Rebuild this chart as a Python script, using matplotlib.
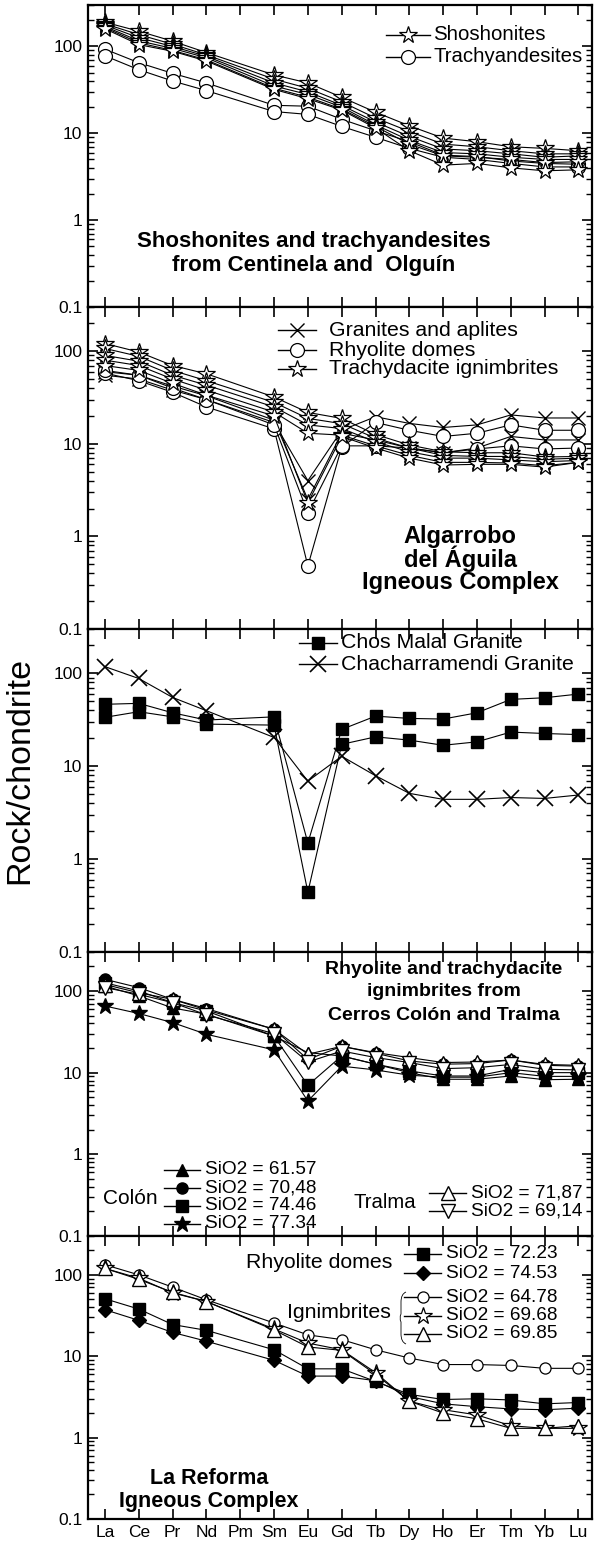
import numpy as np
import matplotlib
matplotlib.use('Agg')
import matplotlib.pyplot as plt
from matplotlib.lines import Line2D
from matplotlib.path import Path
from matplotlib.patches import PathPatch
from matplotlib.ticker import LogLocator, FixedLocator, FuncFormatter, NullFormatter

plt.rcParams['font.family'] = ['Liberation Sans', 'DejaVu Sans']

# ---------------- data ----------------
elements = ['La', 'Ce', 'Pr', 'Nd', 'Pm', 'Sm', 'Eu', 'Gd', 'Tb', 'Dy', 'Ho', 'Er', 'Tm', 'Yb', 'Lu']
measured = ['La', 'Ce', 'Pr', 'Nd', 'Sm', 'Eu', 'Gd', 'Tb', 'Dy', 'Ho', 'Er', 'Tm', 'Yb', 'Lu']

# Panel 1: Centinela and Olguin
shoshonites = [
    [190, 150, 115, 85, 47, 38, 26, 17.5, 12.2, 8.8, 8.0, 7.0, 6.7, 6.3],
    [182, 137, 106, 80, 42, 33, 23, 15.0, 10.5, 7.5, 7.0, 6.3, 5.8, 5.8],
    [176, 126, 100, 77, 38, 30, 21, 13.5, 9.2, 6.6, 6.3, 5.8, 5.3, 5.5],
    [170, 116, 95, 74, 35, 28, 20, 12.5, 8.3, 6.0, 5.8, 5.3, 5.0, 5.0],
    [165, 110, 90, 70, 33, 26, 19, 12.0, 7.5, 5.5, 5.3, 5.0, 4.6, 4.7],
    [160, 105, 88, 68, 32, 25, 18.5, 11.5, 6.3, 4.3, 4.5, 4.0, 3.7, 3.8],
]
trachyandesites = [
    [93, 65, 49, 38, 21, 20.5, 14.5, 10.7, 8.0, 5.6, 5.4, 4.8, 4.5, 4.4],
    [78, 54, 40, 31, 17.8, 16.5, 12.0, 9.0, 6.7, 5.3, 5.0, 4.5, 4.1, 4.1],
]

# Panel 2: Algarrobo del Aguila
granites_aplites = [
    [55, 50, 38, 30, 17, 4.0, 14, 19.6, 16.6, 15, 16, 20.5, 19, 19],
    [60, 55, 42, 33, 18, 2.5, 13, 11, 9.0, 8.0, 9.0, 12, 11, 11],
]
rhyolite_domes = [
    [58, 48, 36, 25, 14.5, 0.48, 9.2, 17, 14, 12, 13, 16, 14, 14],
    [62, 55, 40, 30, 16, 1.8, 9.5, 9.5, 9.0, 8.0, 8.8, 9.5, 8.8, 9.0],
]
trachydacite_ignimbrites = [
    [121, 98, 70, 57, 32, 21.8, 18.8, 12.6, 9.7, 8.2, 8.0, 8.0, 7.2, 7.3],
    [107, 88, 62, 48, 28, 18.8, 16.5, 11.5, 9.0, 7.5, 7.3, 7.3, 6.8, 7.0],
    [90, 78, 55, 43, 25, 16, 14.6, 10.5, 8.2, 7.0, 7.0, 6.7, 6.4, 6.6],
    [80, 70, 50, 38, 22, 13, 12.4, 9.5, 7.5, 6.3, 6.3, 6.2, 5.8, 6.3],
    [70, 62, 45, 33.5, 20, 2.3, 12, 9.0, 7.0, 5.9, 6.0, 6.0, 5.6, 6.3],
]

# Panel 3
chos_malal = [
    [46.4, 47.5, 37.6, 31.4, 34, 1.49, 24.9, 34.6, 32.7, 32.2, 37.6, 52.4, 54.6, 59.8],
    [33.6, 38.6, 34, 28.4, 27.7, 0.44, 17.2, 20.7, 19.1, 16.8, 18.3, 23.3, 22.5, 21.9],
]
chacharramendi = [118, 88, 55, 39.6, 20.4, 6.9, 12.8, 7.9, 5.1, 4.4, 4.4, 4.6, 4.5, 4.9]

# Panel 4: Cerros Colon and Tralma
colon_labels = ['SiO2 = 61.57', 'SiO2 = 70,48', 'SiO2 = 74.46', 'SiO2 = 77.34']
colon = [
    [115, 87, 62, 52, 28, 17.6, 16, 12.7, 10, 8.3, 8.3, 9.1, 8.2, 8.3],
    [139, 110, 79, 61, 34, 14.5, 21, 17.3, 13.9, 12.7, 12.9, 14.3, 12.3, 12],
    [126, 100, 72, 57, 28, 7.0, 16, 12.7, 10.5, 9.1, 9.1, 11, 10, 10],
    [65.5, 53, 41, 29.5, 19, 4.5, 12, 10.8, 9.3, 8.8, 8.8, 10, 9.0, 9.0],
]
tralma_labels = ['SiO2 = 71,87', 'SiO2 = 69,14']
tralma = [
    [120, 95, 79, 58.5, 34, 16.8, 21, 17.6, 15.3, 13.3, 13.5, 14.3, 12.6, 12.3],
    [110, 91, 72, 51, 30, 13.5, 18.4, 15.3, 13.3, 11.2, 11.5, 12.6, 11, 10.8],
]

# Panel 5: La Reforma
domes_labels = ['SiO2 = 72.23', 'SiO2 = 74.53']
reforma_domes = [
    [50.8, 38, 24.5, 20.8, 12, 7.0, 7.0, 4.9, 3.4, 2.94, 3.0, 2.9, 2.6, 2.7],
    [37.3, 27.6, 19.6, 15.3, 8.9, 5.7, 5.7, 5.0, 3.2, 2.6, 2.4, 2.25, 2.2, 2.3],
]
ign_labels = ['SiO2 = 64.78', 'SiO2 = 69.68', 'SiO2 = 69.85']
reforma_ign = [
    [133, 100, 70.6, 49.4, 25.6, 18.3, 16, 12, 9.5, 7.9, 7.9, 7.7, 7.1, 7.1],
    [120, 91, 60, 47, 21.6, 14.5, 12, 6.3, 2.8, 2.2, 1.9, 1.4, 1.3, 1.3],
    [120, 88, 61, 47, 21, 13, 11.8, 6.0, 2.8, 2.0, 1.7, 1.3, 1.3, 1.4],
]

# ---------------- styles ----------------
LW = 0.8
star_open = dict(marker='*', ms=13, mfc='white', mec='k', mew=0.9)
circ_open = dict(marker='o', ms=10, mfc='white', mec='k', mew=0.9)
xmark = dict(marker='x', ms=10, mec='k', mew=1.0)
xmark_big = dict(marker='x', ms=11, mec='k', mew=1.2)
sq_fill = dict(marker='s', ms=8, mfc='k', mec='k')
tri_fill = dict(marker='^', ms=9, mfc='k', mec='k')
circ_fill = dict(marker='o', ms=8, mfc='k', mec='k')
star_fill = dict(marker='*', ms=12, mfc='k', mec='k')
tri_open = dict(marker='^', ms=10, mfc='white', mec='k', mew=1.0)
trid_open = dict(marker='v', ms=10, mfc='white', mec='k', mew=1.0)
diam_fill = dict(marker='D', ms=7, mfc='k', mec='k')
circ_small = dict(marker='o', ms=8, mfc='white', mec='k', mew=0.9)

W, H, DPI = 601, 1544, 100
fig = plt.figure(figsize=(W / DPI, H / DPI), dpi=DPI)

AX_L, AX_R = 88, 592
panels_px = [(5, 307), (307, 629), (629, 952), (952, 1236), (1236, 1519)]

xpos = {e: i for i, e in enumerate(elements)}
xm = [xpos[e] for e in measured]

LEG_FS = 15.3
SIO_FS = 13.7


def fx(x):
    return x / W


def fy(y):
    return 1 - y / H


axes = []
for i, (t, b) in enumerate(panels_px):
    ax = fig.add_axes([fx(AX_L), fy(b), (AX_R - AX_L) / W, (b - t) / H])
    ax.set_yscale('log')
    ax.set_ylim(0.1, 300)
    ax.set_xlim(-0.5, 14.4)
    ax.xaxis.set_major_locator(FixedLocator(range(len(elements))))
    if i == len(panels_px) - 1:
        ax.set_xticklabels(elements, fontsize=12.5)
    else:
        ax.set_xticklabels([])
    ax.yaxis.set_major_locator(FixedLocator([0.1, 1, 10, 100]))
    ax.yaxis.set_major_formatter(FuncFormatter(lambda v, p: '%g' % v))
    ax.yaxis.set_minor_locator(LogLocator(base=10, subs=np.arange(2, 10), numticks=20))
    ax.yaxis.set_minor_formatter(NullFormatter())
    ax.tick_params(axis='both', which='major', direction='in', length=7, width=1.2,
                   top=True, right=True, labelsize=12.5, pad=4)
    ax.tick_params(axis='y', which='minor', direction='in', length=4, width=1.0,
                   right=True, left=True)
    ax.tick_params(axis='x', which='minor', bottom=False, top=False)
    for s in ax.spines.values():
        s.set_linewidth(1.6)
    axes.append(ax)


def series(ax, vals, style):
    ax.plot(xm, vals, color='k', lw=LW, **style)


def key(x0, x1, y, label, tx, style, fs=LEG_FS):
    fig.add_artist(Line2D([fx(x0), fx(x1)], [fy(y), fy(y)], transform=fig.transFigure,
                          color='k', lw=1.0))
    fig.add_artist(Line2D([fx((x0 + x1) / 2)], [fy(y)], transform=fig.transFigure,
                          ls='none', **style))
    fig.text(fx(tx), fy(y), label, va='center', ha='left', fontsize=fs)


def title(x, ys, lines, fs):
    for y, s in zip(ys, lines):
        fig.text(fx(x), fy(y), s, ha='center', va='center', fontsize=fs, fontweight='bold')


# Panel 1
ax = axes[0]
for v in trachyandesites:
    series(ax, v, circ_open)
for v in shoshonites:
    series(ax, v, star_open)
key(386, 430, 35, 'Shoshonites', 433, star_open, 14.7)
key(386, 430, 57, 'Trachyandesites', 433, circ_open, 14.7)
title(314, [242, 265], ['Shoshonites and trachyandesites', 'from Centinela and  Olguín'], 16)

# Panel 2
ax = axes[1]
for v in granites_aplites:
    series(ax, v, xmark)
for v in rhyolite_domes:
    series(ax, v, circ_open)
for v in trachydacite_ignimbrites:
    series(ax, v, star_open)
key(278, 316, 330, 'Granites and aplites', 329, xmark)
key(278, 316, 350, 'Rhyolite domes', 329, circ_open)
key(278, 316, 369, 'Trachydacite ignimbrites', 329, star_open)
title(460, [537, 559, 582], ['Algarrobo', 'del Águila', 'Igneous Complex'], 17)

# Panel 3
ax = axes[2]
for v in chos_malal:
    series(ax, v, sq_fill)
series(ax, chacharramendi, xmark_big)
key(299, 337, 643, 'Chos Malal Granite', 341, sq_fill)
key(299, 337, 664, 'Chacharramendi Granite', 341, xmark_big)

# Panel 4
ax = axes[3]
colon_styles = [tri_fill, circ_fill, sq_fill, star_fill]
tralma_styles = [tri_open, trid_open]
for v, st in zip(colon, colon_styles):
    series(ax, v, st)
for v, st in zip(tralma, tralma_styles):
    series(ax, v, st)
for j, (lab, st) in enumerate(zip(colon_labels, colon_styles)):
    key(164, 200, 1170 + 18 * j, lab, 205, st, SIO_FS)
fig.text(fx(103), fy(1198), 'Colón', va='center', ha='left', fontsize=15)
for j, (lab, st) in enumerate(zip(tralma_labels, tralma_styles)):
    key(429, 466, 1193 + 18 * j, lab, 471, st, SIO_FS)
fig.text(fx(354), fy(1202), 'Tralma', va='center', ha='left', fontsize=14.6)
title(444, [970, 992, 1015], ['Rhyolite and trachydacite', 'ignimbrites from',
                              'Cerros Colón and Tralma'], 14)

# Panel 5
ax = axes[4]
domes_styles = [sq_fill, diam_fill]
ign_styles = [circ_small, star_open, tri_open]
for v, st in zip(reforma_domes, domes_styles):
    series(ax, v, st)
for v, st in zip(reforma_ign, ign_styles):
    series(ax, v, st)
for j, (lab, st) in enumerate(zip(domes_labels, domes_styles)):
    key(404, 441, 1254 + 19 * j, lab, 446, st, SIO_FS)
fig.text(fx(392), fy(1262), 'Rhyolite domes', va='center', ha='right', fontsize=LEG_FS)
for j, (lab, st) in enumerate(zip(ign_labels, ign_styles)):
    key(404, 441, 1297 + 18.5 * j, lab, 446, st, SIO_FS)
fig.text(fx(391), fy(1312), 'Ignimbrites', va='center', ha='right', fontsize=LEG_FS)
# brace
bx, bt, bb = 401, 1292, 1344
verts = [(bx + 5, bt), (bx, bt + 2), (bx, bt + 10), (bx, (bt + bb) / 2 - 4),
         (bx - 2, (bt + bb) / 2), (bx, (bt + bb) / 2 + 4), (bx, bb - 10), (bx, bb - 2), (bx + 5, bb)]
verts = [(fx(a), fy(b)) for a, b in verts]
codes = [Path.MOVETO, Path.CURVE3, Path.CURVE3, Path.LINETO, Path.CURVE3, Path.CURVE3,
         Path.LINETO, Path.CURVE3, Path.CURVE3]
fig.add_artist(PathPatch(Path(verts, codes), transform=fig.transFigure, fill=False,
                         lw=0.6, color='k'))
title(209, [1479, 1502], ['La Reforma', 'Igneous Complex'], 15.5)

fig.text(fx(20), fy(770), 'Rock/chondrite', rotation=90, va='center', ha='center', fontsize=24.5)

fig.savefig('out.png', dpi=DPI)
